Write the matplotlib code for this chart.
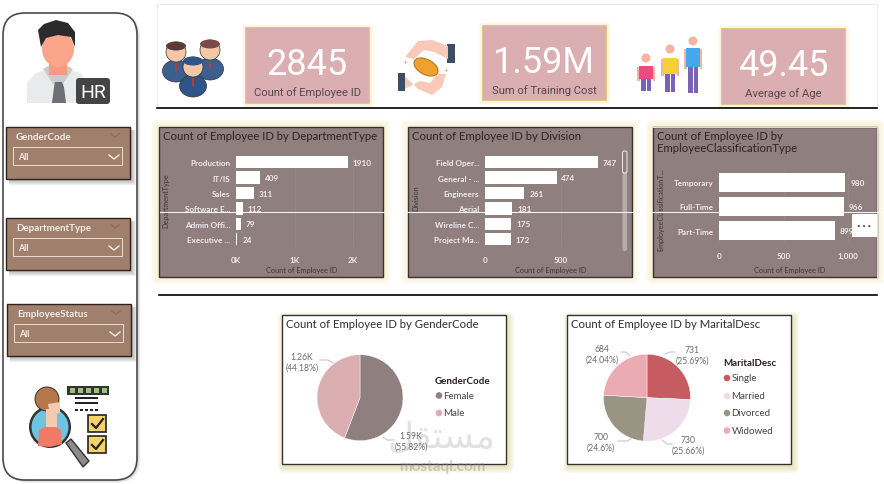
import matplotlib
matplotlib.use("Agg")
import matplotlib.pyplot as plt
from matplotlib.patches import Rectangle, FancyBboxPatch, Circle, Ellipse, Polygon
from matplotlib import font_manager as fm

W, H = 884, 485
names = {f.name for f in fm.fontManager.ttflist}
NARROW = ["Liberation Sans Narrow", "Roboto", "DejaVu Sans"] if "Liberation Sans Narrow" in names else ["Roboto", "DejaVu Sans"]
plt.rcParams["font.family"] = ["Lato", "DejaVu Sans"]

# ---------- data ----------
kpi_values = ["2845", "1.59M", "49.45"]
kpi_labels = ["Count of Employee ID", "Sum of Training Cost", "Average of Age"]

dept_labels = ["Production", "IT/IS", "Sales", "Software E...", "Admin Offi...", "Executive ..."]
dept_values = [1910, 409, 311, 112, 79, 24]
dept_ticks = [0, 1000, 2000]
dept_ticklabels = ["0K", "1K", "2K"]

div_labels = ["Field Oper...", "General - ...", "Engineers", "Aerial", "Wireline C...", "Project Ma..."]
div_values = [747, 474, 261, 181, 175, 172]
div_ticks = [0, 500]
div_ticklabels = ["0", "500"]

class_labels = ["Temporary", "Full-Time", "Part-Time"]
class_values = [980, 966, 899]
class_ticks = [0, 500, 1000]
class_ticklabels = ["0", "500", "1,000"]

gender_labels = ["Female", "Male"]
gender_values = [1588, 1257]
gender_texts = ["1.59K\n(55.82%)", "1.26K\n(44.18%)"]

marital_labels = ["Single", "Married", "Divorced", "Widowed"]
marital_values = [731, 730, 700, 684]
marital_texts = ["731\n(25.69%)", "730\n(25.66%)", "700\n(24.6%)", "684\n(24.04%)"]

slicer_names = ["GenderCode", "DepartmentType", "EmployeeStatus"]

# ---------- colours ----------
PANEL = "#8F7F7F"
CARD = "#DBAEB1"
BROWN = "#A07F6D"
GLOW = "#F3E6A6"
gender_colors = ["#8F7F7F", "#DBAEB1"]
marital_colors = ["#C75B62", "#EEDCEB", "#9A9484", "#EBABB2"]

fig = plt.figure(figsize=(W / 100, H / 100), dpi=100, facecolor="white")


def pxaxes(x0, y0, x1, y1, z=2):
    ax = fig.add_axes([x0 / W, 1 - y1 / H, (x1 - x0) / W, (y1 - y0) / H], zorder=z)
    ax.patch.set_alpha(0)
    return ax


bg = fig.add_axes([0, 0, 1, 1], zorder=0)
bg.set_xlim(0, W)
bg.set_ylim(H, 0)
bg.axis("off")


def glow(ax, x0, y0, x1, y1, color=GLOW, spread=7, strength=0.12, dx=0, dy=0):
    for i in range(spread, 0, -1):
        ax.add_patch(FancyBboxPatch((x0 - i + dx, y0 - i + dy), x1 - x0 + 2 * i, y1 - y0 + 2 * i,
                                    boxstyle=f"round,pad=0,rounding_size={i}", fc=color, ec="none",
                                    alpha=strength, zorder=1))


def rrect(ax, x0, y0, x1, y1, r, fc, ec="none", lw=0, z=3, **kw):
    ax.add_patch(FancyBboxPatch((x0, y0), x1 - x0, y1 - y0, boxstyle=f"round,pad=0,rounding_size={r}",
                                fc=fc, ec=ec, lw=lw, zorder=z, **kw))


def rect(ax, x0, y0, x1, y1, fc, ec="none", lw=0, z=3, **kw):
    ax.add_patch(Rectangle((x0, y0), x1 - x0, y1 - y0, fc=fc, ec=ec, lw=lw, zorder=z, **kw))


def circ(ax, x, y, r, fc, z=4, ec="none", lw=0):
    ax.add_patch(Circle((x, y), r, fc=fc, ec=ec, lw=lw, zorder=z))


def poly(ax, pts, fc, z=4, ec="none", lw=0):
    ax.add_patch(Polygon(pts, closed=True, fc=fc, ec=ec, lw=lw, zorder=z))


# ---------- left rail ----------
for i in range(6, 0, -1):
    rrect(bg, 2 + i * .5, 13 + i * .4, 137 + i * .6, 481 + i * .5, 24, "#555555", z=1, alpha=0.05)
rrect(bg, 3, 14, 137, 481, 22, "white", ec="#4a4a4a", lw=1.2, z=2)

# HR person
poly(bg, [(27, 104), (27, 84), (36, 74), (50, 70), (66, 70), (80, 74), (88, 84), (88, 104)], "#E9EAEB")
poly(bg, [(43, 70), (58, 92), (73, 70), (66, 66), (50, 66)], "#C9CBCD", z=5)
rect(bg, 49, 58, 67, 76, "#F59C80", z=5)
bg.add_patch(Ellipse((58, 50), 32, 36, fc="#FBA58A", ec="none", zorder=6))
poly(bg, [(41, 48), (38, 31), (44, 25), (56, 21), (68, 24), (75, 33), (75, 48), (71, 38), (58, 36), (46, 39)],
     "#2B2B2D", z=7)
poly(bg, [(55, 83), (62, 83), (64, 88), (66, 104), (52, 104), (54, 88)], "#6E6E74", z=6)
rrect(bg, 76, 79, 110, 105, 3, "#444444", z=7)
bg.text(93, 92.5, "HR", color="white", fontsize=14, ha="center", va="center", zorder=8, family=NARROW)

# Slicers
slicer_y = [128, 219, 305]
slicer_x = [6, 6, 7]
for name, y, x in zip(slicer_names, slicer_y, slicer_x):
    for i in range(6, 0, -1):
        rect(bg, x + 3, y + 3, x + 124 + i, y + 52 + i, "#333333", z=2.5, alpha=0.07)
    rect(bg, x, y, x + 124, y + 52, BROWN, ec="#2f221c", lw=1, z=3)
    bg.text(x + 10, y + 10, name, color="#F5EEEA", fontsize=7, fontweight="bold", va="center", zorder=5)
    rect(bg, x + 7, y + 20, x + 116, y + 38, "none", ec="#E8DCD5", lw=0.7, z=4)
    bg.text(x + 12, y + 30, "All", color="#F5EEEA", fontsize=6.4, fontweight="bold", va="center", zorder=5)
    bg.plot([x + 103, x + 108, x + 113], [y + 28, y + 32, y + 28], color="#F5EEEA", lw=1, zorder=5)
    bg.plot([x + 105, x + 109, x + 113], [y + 7, y + 10, y + 7], color="#8A6E5F", lw=1, zorder=5)

# Inspector icon
circ(bg, 50, 428, 21, "#333333", z=4)
circ(bg, 50, 428, 18.5, "#6CC4E0", z=4.5)
poly(bg, [(38, 447), (39, 431), (50, 425), (61, 431), (62, 445), (50, 448)], "#F07A66", z=5)
rect(bg, 46, 410, 57, 428, "#F5CBB0", z=5.5)
bg.add_patch(Ellipse((47, 400), 24, 24, fc="#B5764A", ec="#333333", lw=0.7, zorder=5.2))
poly(bg, [(48, 405), (60, 403), (60, 414), (50, 416)], "#F5CBB0", z=5.6)
poly(bg, [(66, 444), (71, 440), (89, 462), (83, 468)], "#8B8B8B", z=5, ec="#333", lw=1)
rect(bg, 67, 387, 109, 396, "#333333")
for sx in (70, 78, 86, 94, 102):
    rect(bg, sx, 389, sx + 5, 394, "#9BC27A", z=4)
rect(bg, 75, 398, 98, 400, "#222222")
rect(bg, 75, 403, 98, 405, "#222222")
for dx in (75, 80, 85, 90, 95):
    rect(bg, dx, 410, dx + 3, 412, "#222222")
for by in (416, 437):
    rect(bg, 88, by, 106, by + 17, "#F5D36A", ec="#222222", lw=1.2)
    bg.plot([92, 96, 103], [by + 9, by + 13, by + 4], color="#222222", lw=1.6, zorder=5)

# ---------- KPI strip ----------
rect(bg, 157, 5, 877, 108, "white", ec="#E9E9E9", lw=0.7, z=0.5)
kpi_boxes = [(245, 28, 369, 104), (482, 26, 606, 101), (721, 29, 845, 105)]
for (x0, y0, x1, y1), v, l in zip(kpi_boxes, kpi_values, kpi_labels):
    glow(bg, x0, y0, x1, y1, spread=4, strength=0.12, dx=1, dy=1)
    rect(bg, x0, y0, x1, y1, CARD, ec="#E3C989", lw=0.8)
    bg.text((x0 + x1) / 2, y0 + 37, v, color="white", fontsize=26, ha="center", va="center", zorder=5, family=NARROW)
    bg.text((x0 + x1) / 2, y0 + 65, l, color="#54484A", fontsize=8.1, ha="center", va="center", zorder=5, family=NARROW)

bg.plot([157, 877], [109, 109], color="black", lw=1.2, zorder=3)
bg.plot([159, 877], [296, 296], color="black", lw=1.2, zorder=3)


# team icon
def person(ax, x, y, body, hair, z=4):
    ax.add_patch(Ellipse((x, y + 20), 27, 22, fc=body, ec="#333", lw=0.5, zorder=z))
    circ(ax, x, y + 1, 10, "#F4C7A8", z=z + 0.2, ec="#333", lw=0.5)
    ax.add_patch(Ellipse((x, y - 5), 20, 9, fc=hair, ec="none", zorder=z + 0.3))
    rect(ax, x - 1, y + 12, x + 1, y + 20, "#C0392B", z=z + 0.4)


person(bg, 176, 52, "#3D5F8F", "#5B3A3A")
person(bg, 210, 50, "#3D5F8F", "#7A4A4A")
person(bg, 193, 67, "#2F5488", "#2F5488", z=6)

# coin handshake icon
poly(bg, [(448, 47), (432, 41), (418, 42), (405, 58), (414, 60), (424, 51), (434, 53), (448, 60)], "#F8C9B8")
poly(bg, [(405, 77), (418, 90), (432, 96), (442, 88), (446, 75), (438, 75), (430, 84), (420, 82), (405, 90)], "#F8C9B8")
bg.add_patch(Ellipse((426, 68), 26, 15, angle=28, fc="#F0A02C", ec="#B8761A", lw=0.8, zorder=5))
rect(bg, 447, 45, 455, 64, "#3C4E63")
rect(bg, 398, 74, 405, 92, "#3C4E63")
bg.text(405, 63, "+", color="#F0A02C", fontsize=6, ha="center", va="center", zorder=5)
bg.text(446, 70, "+", color="#F0A02C", fontsize=6, ha="center", va="center", zorder=5)

# family icon
for x, head, shoulder, waist, foot, shirt, r in [
        (646, 59, 67, 80, 92, "#EE4A82", 4.5),
        (670, 50, 59, 75, 93, "#F5D033", 4.5),
        (693, 42, 49, 68, 94, "#45A8E8", 4.5)]:
    circ(bg, x, head, r, "#F4B5A0")
    rect(bg, x - 9, shoulder + 1, x - 6.5, waist + 2, "#F4B5A0")
    rect(bg, x + 6.5, shoulder + 1, x + 9, waist + 2, "#F4B5A0")
    rect(bg, x - 7, shoulder, x + 7, waist, shirt, z=5)
    rect(bg, x - 5, waist, x - 0.5, foot, "#7A63B5")
    rect(bg, x + 0.5, waist, x + 5, foot, "#7A63B5")

# ---------- bar panels ----------
panels = [(159, 128, 383, 278), (408, 128, 632, 278), (653, 128, 877, 278)]
titles = ["Count of Employee ID by DepartmentType", "Count of Employee ID by Division",
          "Count of Employee ID by\nEmployeeClassificationType"]
for i, ((x0, y0, x1, y1), t) in enumerate(zip(panels, titles)):
    glow(bg, x0, y0, x1, y1, spread=8, strength=0.08 if i != 1 else 0.05)
    rect(bg, x0, y0, x1, y1, PANEL, ec="#3B3232", lw=1, z=3)
    bg.text(x0 + 4, y0 + 3, t, color="#2E2526", fontsize=8.2, va="top", zorder=5, linespacing=1.1)
bg.plot([653, 877, 877], [128, 128, 278], color="#E6E0E0", lw=0.7, zorder=4)


def barpanel(box, labels, values, ticks, ticklabels, xmax, ylab, ylab_x, ylab_y, xlab_x, height):
    ax = pxaxes(*box)
    ypos = list(range(len(values)))
    ax.barh(ypos, values, height=height, color="white", zorder=3)
    ax.set_ylim(len(values) - 0.5, -0.5)
    ax.set_xlim(0, xmax)
    ax.set_yticks(ypos, labels, color="#F2ECEC", fontsize=5.9, fontweight="bold")
    ax.set_xticks(ticks, ticklabels, color="#F2ECEC", fontsize=5.9, fontweight="bold")
    ax.tick_params(length=0, axis="y", pad=4)
    ax.tick_params(length=0, axis="x", pad=6.5)
    ax.grid(axis="x", color="#A89A9A", lw=0.5, ls=":", zorder=1)
    ax.set_axisbelow(True)
    for s in ax.spines.values():
        s.set_visible(False)
    for y, v in zip(ypos, values):
        ax.annotate(str(v), (v, y), xytext=(3.5, 0), textcoords="offset points", va="center",
                    color="#F2ECEC", fontsize=5.9, fontweight="bold")
    bg.text(ylab_x, ylab_y, ylab, rotation=90, color="#3F3536", fontsize=5.2, ha="center", va="center", zorder=5)
    bg.text(xlab_x, 271, "Count of Employee ID", color="#3F3536", fontsize=5.3, ha="center", va="center", zorder=5)
    return ax


barpanel((236, 155.5, 372, 248), dept_labels, dept_values, dept_ticks, dept_ticklabels, 136 / 0.0585,
         "DepartmentType", 166, 201, 302, 0.8)
barpanel((485, 155.5, 620, 248), div_labels, div_values, div_ticks, div_ticklabels, 135 / 0.151,
         "Division", 416, 198, 551, 0.8)
barpanel((719, 171, 868, 244), class_labels, class_values, class_ticks, class_ticklabels, 149 / 0.129,
         "EmployeeClassificationT...", 661, 210, 790, 0.78)

# scrollbar in the Division panel
rrect(bg, 622.5, 152, 627, 252, 2, "#B5ABAB", z=5)
rrect(bg, 622.5, 152, 627, 174, 2, "#8F7F7F", ec="#EFEAEA", lw=0.7, z=6)

# ---------- pie cards ----------
cards = [(282, 316, 506, 465), (567, 316, 791, 465)]
pie_titles = ["Count of Employee ID by GenderCode", "Count of Employee ID by MaritalDesc"]
for (x0, y0, x1, y1), t in zip(cards, pie_titles):
    glow(bg, x0, y0, x1, y1, color="#D6CF8E", spread=6, strength=0.10, dx=2, dy=3)
    rect(bg, x0, y0, x1, y1, "white", ec="#333333", lw=1, z=3)
    bg.text(x0 + 4, y0 + 3, t, color="#2E2E2E", fontsize=8.2, va="top", zorder=5)


def pie(cx, cy, r, values, colors):
    ax = pxaxes(cx - r, cy - r, cx + r, cy + r)
    ax.pie(values, colors=colors, startangle=90, counterclock=False, radius=1,
           wedgeprops=dict(edgecolor="white", linewidth=0.3))
    ax.set_xlim(-1, 1)
    ax.set_ylim(-1, 1)


pie(360, 398.7, 43, gender_values, gender_colors)
pie(647, 398.7, 43.5, marital_values, marital_colors)

gender_text_xy = [(411, 441.5), (302, 362.5)]
gender_leaders = [[(383, 438), (387, 441), (394, 441)], [(333, 364), (328, 361), (320, 361)]]
marital_text_xy = [(692, 355.5), (688, 446), (601, 443), (602, 354.5)]
marital_leaders = [[(665, 355), (670, 353), (675, 353)], [(662, 441), (667, 445), (672, 445)],
                   [(634, 438), (627, 442), (618, 442)], [(630, 357), (626, 353), (621, 353)]]
for txts, xy, leaders in [(gender_texts, gender_text_xy, gender_leaders),
                          (marital_texts, marital_text_xy, marital_leaders)]:
    for t, (x, y), l in zip(txts, xy, leaders):
        bg.text(x, y, t, color="#6B6B6B", fontsize=6.2, ha="center", va="center", zorder=5, linespacing=1.2)
        bg.plot(*zip(*l), color="#B5B5B5", lw=0.6, zorder=5)


def legend(title, tx, ty, cx, ys, labels, colors):
    bg.text(tx, ty, title, color="#2A1C1E", fontsize=7, fontweight="bold", va="center", zorder=5)
    for y, l, c in zip(ys, labels, colors):
        circ(bg, cx, y, 3.3, c, z=5)
        bg.text(cx + 4.5, y, l, color="#444444", fontsize=7, va="center", zorder=5)


legend("GenderCode", 435, 381.5, 439, [396.5, 414], gender_labels, gender_colors)
legend("MaritalDesc", 723.5, 364, 727, [379, 397, 414, 431.5], marital_labels, marital_colors)

# ---------- overlay ----------
top = pxaxes(0, 0, W, H, z=10)
top.set_xlim(0, W)
top.set_ylim(H, 0)
top.axis("off")
top.plot([160, 884], [213, 213], color="white", lw=0.8, alpha=0.9, zorder=2)
rect(top, 852, 215, 877, 238, "white", z=3)
top.text(864.5, 226.5, "\u2022 \u2022 \u2022", color="#555555", fontsize=4.5, ha="center", va="center", zorder=4)
top.text(442, 438, "\ufede\ufed8\ufe98\ufeb4\ufee3", color="#8A8A8A", alpha=0.25, fontsize=26, ha="center",
         va="center", family="DejaVu Sans", zorder=6)
top.text(442, 467, "mostaql.com", color="#8A8A8A", alpha=0.4, fontsize=11, fontweight="bold", ha="center",
         va="center", zorder=6)

fig.savefig("out.png", dpi=100)
